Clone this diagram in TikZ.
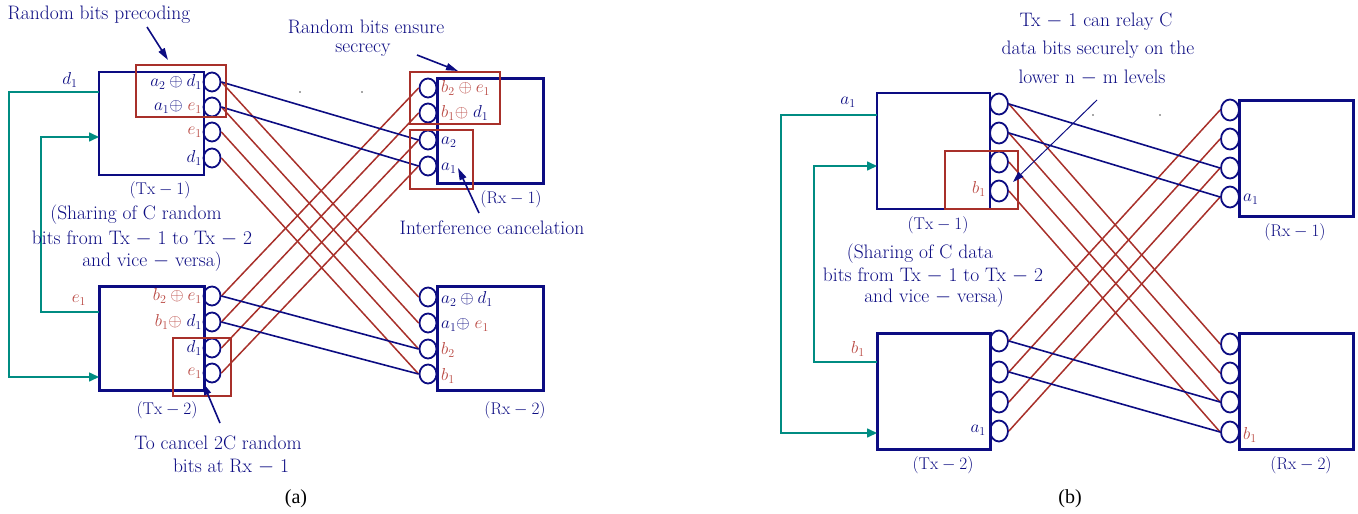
\documentclass[tikz,border=0pt]{standalone}
\usepackage{fontspec}
\usetikzlibrary{shapes.geometric,arrows.meta}
\definecolor{navy}{RGB}{12,12,130}
\definecolor{dred}{RGB}{168,48,42}
\definecolor{tred}{RGB}{185,72,66}
\definecolor{tealc}{RGB}{0,140,130}
\newfontfamily\capfont{Liberation Serif}
\begin{document}
\begin{tikzpicture}[x=1pt,y=-1pt,
  every node/.style={font=\fontsize{17}{20}\selectfont, text=navy, inner sep=1pt},
  txt/.style={font=\fontsize{19.5}{22}\selectfont, inner sep=0pt},
  port/.style={draw=navy, ellipse, line width=1.8pt, minimum width=17pt, minimum height=19pt, inner sep=0pt},
  portb/.style={port, minimum width=18pt, minimum height=21pt},
  bthin/.style={draw=navy, line width=1.5pt, inner sep=0pt},
  bmid/.style={draw=navy, line width=2pt, inner sep=0pt},
  bthick/.style={draw=navy, line width=3pt, inner sep=0pt},
  rbox/.style={draw=dred, line width=1.4pt},
  bl/.style={navy, line width=1.6pt},
  rl/.style={dred, line width=1.5pt},
  tl/.style={tealc, line width=1.6pt},
  tlarrow/.style={tl, -{Triangle[length=10pt,width=9pt]}},
  ann/.style={navy, line width=1.6pt, -{Triangle[length=12pt,width=7pt]}},
  annthin/.style={navy, line width=1pt, -{Triangle[length=11pt,width=7pt]}}
]
\useasboundingbox (0,0) rectangle (1358,514);

% ================= Panel (a) =================
\node[bthin, minimum width=105pt, minimum height=103pt] (atx1) at (151.5,123.5) {};
\node[bthick, minimum width=105pt, minimum height=104pt] (atx2) at (151.5,338) {};
\node[bthick, minimum width=106pt, minimum height=105pt] (arx1) at (490,130.5) {};
\node[bthick, minimum width=106pt, minimum height=104pt] (arx2) at (490,338) {};

% ports
\foreach \i/\y in {1/82,2/107,3/132,4/158} \node[port] (at1p\i) at (212,\y) {};
\foreach \i/\y in {1/296,2/322,3/348,4/373} \node[port] (at2p\i) at (212,\y) {};
\foreach \i/\y in {1/88,2/113,3/140,4/166} \node[port] (ar1p\i) at (428,\y) {};
\foreach \i/\y in {1/297,2/323,3/349,4/374} \node[port] (ar2p\i) at (428,\y) {};

% connectors
\foreach \i in {1,2,3,4} {
  \draw[rl] (at1p\i.east) -- (ar2p\i.west);
  \draw[rl] (at2p\i.east) -- (ar1p\i.west);
}
\draw[bl] (at1p1.east) -- (ar1p3.west);
\draw[bl] (at1p2.east) -- (ar1p4.west);
\draw[bl] (at2p1.east) -- (ar2p3.west);
\draw[bl] (at2p2.east) -- (ar2p4.west);

% red highlight boxes
\draw[rbox] (136,65) rectangle (226,117);
\draw[rbox] (173,338) rectangle (231,396);
\draw[rbox] (410,72) rectangle (500,124);
\draw[rbox] (410,130) rectangle (473,189);

% labels inside Tx-1
\node[anchor=east] (la1) at (203,82) {$a_2\oplus d_1$};
\node[anchor=east] (la2) at (203,107) {$a_1{\oplus}\;{\color{tred}e_1}$};
\node[anchor=east, text=tred] (la3) at (203,132) {$e_1$};
\node[anchor=east] (la4) at (203,158) {$d_1$};
% Tx-2
\node[anchor=east, text=tred] (lb1) at (203,296) {$b_2\oplus e_1$};
\node[anchor=east, text=tred] (lb2) at (203,322) {$b_1{\oplus}\;{\color{navy}d_1}$};
\node[anchor=east] (lb3) at (203,348) {$d_1$};
\node[anchor=east, text=tred] (lb4) at (203,373) {$e_1$};
% Rx-1
\node[anchor=west, text=tred] (lc1) at (440,88) {$b_2\oplus e_1$};
\node[anchor=west, text=tred] (lc2) at (440,113) {$b_1{\oplus}\;{\color{navy}d_1}$};
\node[anchor=west] (lc3) at (440,142) {$a_2$};
\node[anchor=west] (lc4) at (440,168) {$a_1$};
% Rx-2
\node[anchor=west] (ld1) at (440,299) {$a_2\oplus d_1$};
\node[anchor=west] (ld2) at (440,325) {$a_1{\oplus}\;{\color{tred}e_1}$};
\node[anchor=west, text=tred] (ld3) at (440,350) {$b_2$};
\node[anchor=west, text=tred] (ld4) at (440,376) {$b_1$};

% captions
\node (catx1) at (160,190) {$(\mathrm{Tx}-1)$};
\node (catx2) at (167,410) {$(\mathrm{Tx}-2)$};
\node (carx1) at (511,199) {$(\mathrm{Rx}-1)$};
\node (carx2) at (515,410) {$(\mathrm{Rx}-2)$};

% teal sharing lines
\node (ad1) at (70,80) {$d_1$};
\node[text=tred] (ae1) at (79,300) {$e_1$};
\coordinate (aout1) at (99,92);
\coordinate (acor1) at (9,377);
\coordinate (ain2) at (99,377);
\draw[tlarrow] (aout1) -| (acor1) -- (ain2);
\coordinate (aout2) at (99,312);
\coordinate (acor2) at (41,137);
\coordinate (ain1) at (99,137);
\draw[tlarrow] (aout2) -| (acor2) -- (ain1);

% annotation texts
\node[txt] (tprec) at (99,15) {Random bits precoding};
\coordinate (aprecs) at (147,27); \coordinate (apreco) at (168,60);
\draw[ann] (aprecs) -- (apreco);
\node[txt] (tsec1) at (366,27) {Random bits ensure};
\node[txt] (tsec2) at (363,50) {secrecy};
\coordinate (asecs) at (417,55); \coordinate (aseco) at (458,71);
\draw[ann] (asecs) -- (aseco);
\node[txt] (tint) at (492,228) {Interference cancelation};
\coordinate (aints) at (479,213); \coordinate (ainto) at (458,168);
\draw[ann] (aints) -- (ainto);
\node[txt] (tsh1) at (136,215) {(Sharing of C random};
\node[txt] (tsh2) at (142,239) {bits from Tx $-$ 1 to Tx $-$ 2};
\node[txt] (tsh3) at (152,262) {and vice $-$ versa)};
\node[txt] (tcan1) at (218,443) {To cancel 2C random};
\node[txt] (tcan2) at (231,467) {bits at Rx $-$ 1};
\coordinate (acans) at (220,423); \coordinate (acano) at (203,383);
\draw[ann] (acans) -- (acano);
\node[text=black, font=\capfont\fontsize{20}{22}\selectfont] (capa) at (296,499) {(a)};

% stray dots
\fill[black!70] (300,92) circle (0.8);
\fill[black!70] (362,92) circle (0.8);

% ================= Panel (b) =================
\node[bmid, minimum width=113pt, minimum height=116pt] (btx1) at (933.5,151) {};
\node[bthick, minimum width=113pt, minimum height=116pt] (btx2) at (933.5,391) {};
\node[bthick, minimum width=114pt, minimum height=116pt] (brx1) at (1296,158) {};
\node[bthick, minimum width=114pt, minimum height=116pt] (brx2) at (1296,391) {};

\foreach \i/\y in {1/104,2/133,3/162,4/191} \node[portb] (bt1p\i) at (999,\y) {};
\foreach \i/\y in {1/341,2/372,3/402,4/431} \node[portb] (bt2p\i) at (999,\y) {};
\foreach \i/\y in {1/110,2/139,3/168,4/197} \node[portb] (br1p\i) at (1230,\y) {};
\foreach \i/\y in {1/344,2/373,3/402,4/432} \node[portb] (br2p\i) at (1230,\y) {};

\foreach \i in {1,2,3,4} {
  \draw[rl] (bt1p\i.east) -- (br2p\i.west);
  \draw[rl] (bt2p\i.east) -- (br1p\i.west);
}
\draw[bl] (bt1p1.east) -- (br1p3.west);
\draw[bl] (bt1p2.east) -- (br1p4.west);
\draw[bl] (bt2p1.east) -- (br2p3.west);
\draw[bl] (bt2p2.east) -- (br2p4.west);

\draw[rbox] (945,151) rectangle (1018,209);

\node[anchor=east, text=tred] (bl1) at (987,189) {$b_1$};
\node[anchor=east] (bl2) at (987,430) {$a_1$};
\node[anchor=west] (bl3) at (1242,199) {$a_1$};
\node[anchor=west, text=tred] (bl4) at (1242,435) {$b_1$};

\node (cbtx1) at (938,225) {$(\mathrm{Tx}-1)$};
\node (cbtx2) at (943,465) {$(\mathrm{Tx}-2)$};
\node (cbrx1) at (1295,232) {$(\mathrm{Rx}-1)$};
\node (cbrx2) at (1301,465) {$(\mathrm{Rx}-2)$};

\node (ba1) at (848,102) {$a_1$};
\node[text=tred] (bb1) at (858,349) {$b_1$};
\coordinate (bout1) at (877,115);
\coordinate (bcor1) at (781,433);
\coordinate (bin2) at (877,433);
\draw[tlarrow] (bout1) -| (bcor1) -- (bin2);
\coordinate (bout2) at (877,362);
\coordinate (bcor2) at (814,166);
\coordinate (bin1) at (877,166);
\draw[tlarrow] (bout2) -| (bcor2) -- (bin1);

\node[txt] (trel1) at (1096,22) {Tx $-$ 1 can relay C};
\node[txt] (trel2) at (1098,50) {data bits securely on the};
\node[txt] (trel3) at (1092,78) {lower n $-$ m levels};
\coordinate (brels) at (1097,100); \coordinate (brelo) at (1013,182);
\draw[annthin] (brels) -- (brelo);

\node[txt] (tbsh1) at (920,254) {(Sharing of C data};
\node[txt] (tbsh2) at (933,276) {bits from Tx $-$ 1 to Tx $-$ 2};
\node[txt] (tbsh3) at (934,298) {and vice $-$ versa)};
\node[text=black, font=\capfont\fontsize{20}{22}\selectfont] (capb) at (1070,499) {(b)};

\fill[black!70] (1093,115) circle (0.8);
\fill[black!70] (1160,115) circle (0.8);
\end{tikzpicture}
\end{document}
